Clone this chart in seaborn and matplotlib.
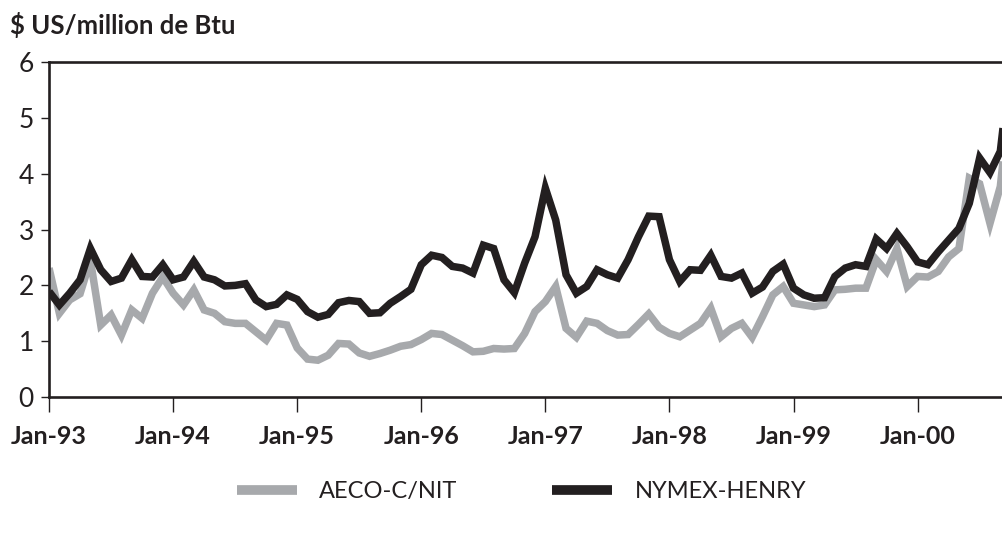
import numpy as np
import pandas as pd
import matplotlib
matplotlib.use("Agg")
import matplotlib.pyplot as plt
import seaborn as sns

# ---- data (monthly, Jan-93 onward) ----
aeco = [2.31, 1.50, 1.74, 1.85, 2.45, 1.29, 1.47, 1.11, 1.56, 1.41, 1.86, 2.15,
        1.86, 1.65, 1.92, 1.56, 1.50, 1.35, 1.32, 1.32, 1.17, 1.02, 1.32, 1.29,
        0.88, 0.68, 0.66, 0.75, 0.96, 0.95, 0.79, 0.73, 0.78, 0.84, 0.91, 0.94,
        1.03, 1.14, 1.12, 1.02, 0.92, 0.81, 0.82, 0.87, 0.86, 0.87, 1.14, 1.53,
        1.71, 1.98, 1.23, 1.07, 1.36, 1.32, 1.19, 1.11, 1.12, 1.30, 1.49, 1.25,
        1.14, 1.08, 1.20, 1.32, 1.59, 1.08, 1.23, 1.32, 1.07, 1.44, 1.83, 1.98,
        1.68, 1.65, 1.62, 1.65, 1.92, 1.93, 1.95, 1.95, 2.46, 2.25, 2.66, 1.98,
        2.16, 2.15, 2.25, 2.51, 2.66, 3.92, 3.82, 3.11, 3.77, 5.50]
nymex = [1.89, 1.65, 1.86, 2.10, 2.66, 2.28, 2.07, 2.13, 2.46, 2.16, 2.15, 2.37,
         2.10, 2.15, 2.43, 2.15, 2.10, 1.99, 2.00, 2.03, 1.74, 1.62, 1.66, 1.83,
         1.75, 1.53, 1.43, 1.48, 1.69, 1.73, 1.71, 1.50, 1.51, 1.68, 1.80, 1.93,
         2.37, 2.54, 2.50, 2.34, 2.31, 2.22, 2.72, 2.66, 2.10, 1.87, 2.40, 2.87,
         3.74, 3.17, 2.19, 1.86, 1.98, 2.28, 2.19, 2.13, 2.46, 2.87, 3.24, 3.23,
         2.46, 2.07, 2.28, 2.27, 2.54, 2.16, 2.13, 2.22, 1.86, 1.97, 2.25, 2.38,
         1.95, 1.83, 1.77, 1.78, 2.16, 2.31, 2.37, 2.34, 2.83, 2.66, 2.93, 2.69,
         2.42, 2.37, 2.60, 2.81, 3.02, 3.47, 4.28, 4.02, 4.40, 6.00]
series_names = ["AECO-C/NIT", "NYMEX-HENRY"]
tick_labels = ["Jan-93", "Jan-94", "Jan-95", "Jan-96", "Jan-97", "Jan-98", "Jan-99", "Jan-00"]
y_ticks = [0, 1, 2, 3, 4, 5, 6]

months = np.arange(len(aeco))
df = pd.DataFrame({
    "month": np.concatenate([months, months]),
    "price": np.concatenate([aeco, nymex]),
    "series": [series_names[0]] * len(aeco) + [series_names[1]] * len(nymex),
})

sns.set_style("white")
plt.rcParams["font.family"] = ["Lato", "DejaVu Sans"]

DARK = "#231f20"
GREY = "#a7a9ac"

fig = plt.figure(figsize=(10.03, 5.33), dpi=100)
ax = fig.add_axes([0.0489, 0.255, 1 - 0.0489, 0.6287])

sns.lineplot(data=df, x="month", y="price", hue="series", hue_order=series_names,
             palette={series_names[0]: GREY, series_names[1]: DARK},
             linewidth=5.4, ax=ax, legend=True)
for ln in ax.lines:
    ln.set_solid_joinstyle("miter")
    ln.set_solid_capstyle("butt")

ax.set_xlim(0, 92.26)
ax.set_ylim(0, 6)
ax.set_xticks([12 * i for i in range(len(tick_labels))])
ax.set_xticklabels(tick_labels, fontweight="bold")
ax.set_yticks(y_ticks)
ax.set_yticklabels([str(v) for v in y_ticks], fontweight="normal")
ax.set_xlabel("")
ax.set_ylabel("")

for side in ["left", "top", "bottom"]:
    ax.spines[side].set_visible(True)
    ax.spines[side].set_color(DARK)
    ax.spines[side].set_linewidth(1.9)
ax.spines["right"].set_visible(False)

ax.tick_params(axis="y", which="both", left=True, direction="out", length=6,
               width=1.0, color=DARK, labelsize=19, pad=5, labelcolor=DARK)
ax.tick_params(axis="x", which="both", bottom=True, direction="out", length=11,
               width=1.0, color=DARK, labelsize=18, pad=9, labelcolor=DARK)

fig.text(0.01, 1 - 25 / 533, "\\$ US/million de Btu", fontsize=18.5,
         fontweight="bold", color=DARK, ha="left", va="center")

sns.move_legend(ax, "center", bbox_to_anchor=(0.52, 0.077),
                bbox_transform=fig.transFigure, ncol=2, frameon=False,
                title=None, fontsize=17, handlelength=2.55, handletextpad=0.95,
                columnspacing=4.0)
for t in ax.get_legend().get_texts():
    t.set_color(DARK)
for h in ax.get_legend().legend_handles:
    h.set_linewidth(7)
    h.set_solid_capstyle("butt")

fig.savefig("out.png", dpi=100)
